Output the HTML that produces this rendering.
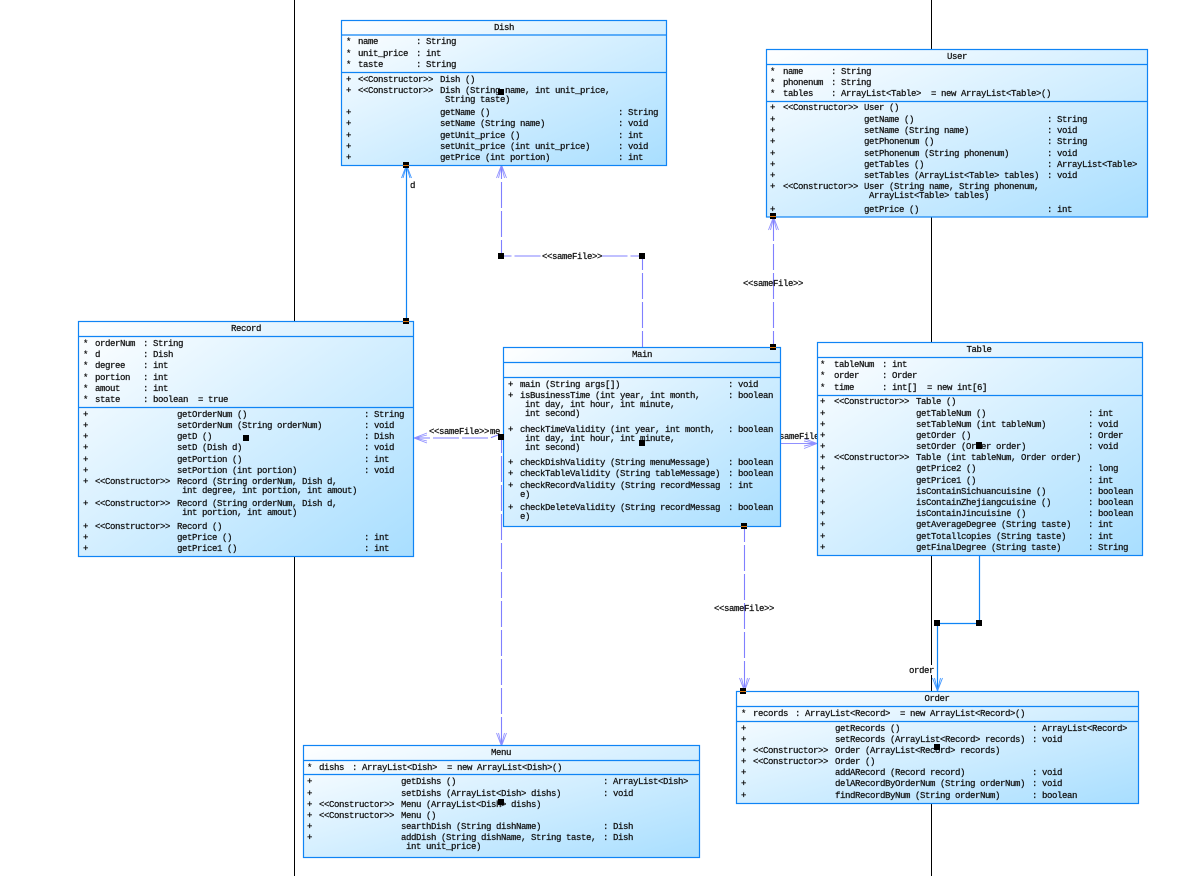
<!DOCTYPE html>
<html><head><meta charset="utf-8">
<style>
html,body{margin:0;padding:0;background:#fff;width:1178px;height:876px;overflow:hidden}
svg{display:block}
text{font-family:"Liberation Mono",monospace;font-size:9px;letter-spacing:-.4px;fill:#111;stroke:#111;stroke-width:.25px;white-space:pre}
.c{letter-spacing:-.4px}
.b{fill:url(#g);stroke:#0f84f5;stroke-width:1.2}
.s{stroke:#0f84f5;stroke-width:1.2;fill:none}
.d{stroke:#8080ff;stroke-width:1.1;fill:none;stroke-dasharray:26 3;stroke-dashoffset:10}
.p{stroke:#9090ff;stroke-width:.9;fill:none}
.a{stroke:#3f96ff;stroke-width:.9;fill:none}
.m{text-anchor:middle}
.h{fill:#000}
.o{fill:#e07a10}
.w{fill:#fff}
</style></head><body>
<svg width="1178" height="876" viewBox="0 0 1178 876" xmlns="http://www.w3.org/2000/svg">
<defs><linearGradient id="g" x1="0" y1="0" x2="1" y2="1"><stop offset="0" stop-color="#ffffff"/><stop offset="1" stop-color="#a8deff"/></linearGradient></defs>

<rect x="294" y="0" width="1" height="876" fill="#000"/>
<rect x="931" y="0" width="1" height="876" fill="#000"/>

<!-- connectors -->
<path class="s" d="M406.5 165V321"/>
<path class="a" d="M401.5 178L406.5 165L411.5 178M403 178L406.5 166L410 178"/>
<rect class="w" x="409" y="180" width="7" height="10"/>
<text x="410" y="188">d</text>

<path class="d" d="M642.5 347V256H501.5V165"/>
<path class="p" d="M496.5 178L501.5 165L506.5 178M498.5 178L501.5 166L504.5 178"/>
<rect class="w" x="541" y="251" width="60" height="10"/>
<text x="542" y="259">&lt;&lt;sameFile&gt;&gt;</text>

<path class="d" d="M773.5 347V217"/>
<path class="p" d="M768.5 230L773.5 217L778.5 230M770.5 230L773.5 218L776.5 230"/>
<text x="743" y="286">&lt;&lt;sameFile&gt;&gt;</text>

<path class="d" d="M414 438H490L498 435"/>
<path class="p" d="M427 433L414 438L427 443M427 435L415 438L427 441"/>
<text x="429" y="434">&lt;&lt;sameFile&gt;&gt;</text>
<text x="490" y="434">me</text>

<path class="d" d="M501.5 437V746"/>
<path class="p" d="M496.5 733L501.5 746L506.5 733M498.5 733L501.5 745L504.5 733"/>

<rect class="w" x="781" y="432" width="36" height="9"/>
<path class="p" d="M781 443.5H817M804 438.5L817 443.5L804 448.5M804 441L816 443.5L804 446"/>
<text x="769" y="439">&lt;&lt;sameFile&gt;&gt;</text>

<path class="d" d="M744.5 526V691"/>
<path class="p" d="M739.5 678L744.5 691L749.5 678M741.5 678L744.5 690L747.5 678"/>
<text x="714" y="611">&lt;&lt;sameFile&gt;&gt;</text>

<path class="s" d="M979.5 555V623.5H937.5V691"/>
<path class="a" d="M932.5 678L937.5 691L942.5 678M934.5 678L937.5 690L940.5 678"/>
<rect class="w" x="909" y="665" width="25" height="10"/>
<text x="909" y="673">order</text>

<!-- Dish -->
<rect class="b" x="341.5" y="20.5" width="325" height="145"/>
<path class="s" d="M341.5 35H666.5M341.5 72.5H666.5"/>
<text class="m" x="504" y="30">Dish</text>
<text y="44"><tspan x="346">*</tspan><tspan x="358">name</tspan><tspan x="416">: String</tspan></text>
<text y="56"><tspan x="346">*</tspan><tspan x="358">unit_price</tspan><tspan x="416">: int</tspan></text>
<text y="67"><tspan x="346">*</tspan><tspan x="358">taste</tspan><tspan x="416">: String</tspan></text>
<text y="82"><tspan x="346">+</tspan><tspan class="c" x="358">&lt;&lt;Constructor&gt;&gt;</tspan><tspan x="440">Dish ()</tspan></text>
<text y="93"><tspan x="346">+</tspan><tspan class="c" x="358">&lt;&lt;Constructor&gt;&gt;</tspan><tspan x="440">Dish (String name, int unit_price,</tspan></text>
<text x="445" y="102">String taste)</text>
<text y="115"><tspan x="346">+</tspan><tspan x="440">getName ()</tspan><tspan x="618">: String</tspan></text>
<text y="126"><tspan x="346">+</tspan><tspan x="440">setName (String name)</tspan><tspan x="618">: void</tspan></text>
<text y="138"><tspan x="346">+</tspan><tspan x="440">getUnit_price ()</tspan><tspan x="618">: int</tspan></text>
<text y="149"><tspan x="346">+</tspan><tspan x="440">setUnit_price (int unit_price)</tspan><tspan x="618">: void</tspan></text>
<text y="160"><tspan x="346">+</tspan><tspan x="440">getPrice (int portion)</tspan><tspan x="618">: int</tspan></text>

<!-- User -->
<rect class="b" x="766.5" y="49.5" width="381" height="167.5"/>
<path class="s" d="M766.5 64.5H1147.5M766.5 101.5H1147.5"/>
<text class="m" x="957" y="59">User</text>
<text y="74"><tspan x="770">*</tspan><tspan x="783">name</tspan><tspan x="831">: String</tspan></text>
<text y="85"><tspan x="770">*</tspan><tspan x="783">phonenum</tspan><tspan x="831">: String</tspan></text>
<text y="96"><tspan x="770">*</tspan><tspan x="783">tables</tspan><tspan x="831">: ArrayList&lt;Table&gt;  = new ArrayList&lt;Table&gt;()</tspan></text>
<text y="110"><tspan x="770">+</tspan><tspan class="c" x="783">&lt;&lt;Constructor&gt;&gt;</tspan><tspan x="864">User ()</tspan></text>
<text y="122"><tspan x="770">+</tspan><tspan x="864">getName ()</tspan><tspan x="1047">: String</tspan></text>
<text y="133"><tspan x="770">+</tspan><tspan x="864">setName (String name)</tspan><tspan x="1047">: void</tspan></text>
<text y="144"><tspan x="770">+</tspan><tspan x="864">getPhonenum ()</tspan><tspan x="1047">: String</tspan></text>
<text y="156"><tspan x="770">+</tspan><tspan x="864">setPhonenum (String phonenum)</tspan><tspan x="1047">: void</tspan></text>
<text y="167"><tspan x="770">+</tspan><tspan x="864">getTables ()</tspan><tspan x="1047">: ArrayList&lt;Table&gt;</tspan></text>
<text y="178"><tspan x="770">+</tspan><tspan x="864">setTables (ArrayList&lt;Table&gt; tables)</tspan><tspan x="1047">: void</tspan></text>
<text y="189"><tspan x="770">+</tspan><tspan class="c" x="783">&lt;&lt;Constructor&gt;&gt;</tspan><tspan x="864">User (String name, String phonenum,</tspan></text>
<text x="869" y="198">ArrayList&lt;Table&gt; tables)</text>
<text y="212"><tspan x="770">+</tspan><tspan x="864">getPrice ()</tspan><tspan x="1047">: int</tspan></text>

<!-- Table -->
<rect class="b" x="817.5" y="342.5" width="325" height="213"/>
<path class="s" d="M817.5 357.5H1142.5M817.5 395.5H1142.5"/>
<text class="m" x="979" y="352">Table</text>
<text y="367"><tspan x="820">*</tspan><tspan x="834">tableNum</tspan><tspan x="882">: int</tspan></text>
<text y="378"><tspan x="820">*</tspan><tspan x="834">order</tspan><tspan x="882">: Order</tspan></text>
<text y="390"><tspan x="820">*</tspan><tspan x="834">time</tspan><tspan x="882">: int[]  = new int[6]</tspan></text>
<text y="404"><tspan x="820">+</tspan><tspan class="c" x="834">&lt;&lt;Constructor&gt;&gt;</tspan><tspan x="916">Table ()</tspan></text>
<text y="416"><tspan x="820">+</tspan><tspan x="916">getTableNum ()</tspan><tspan x="1088">: int</tspan></text>
<text y="427"><tspan x="820">+</tspan><tspan x="916">setTableNum (int tableNum)</tspan><tspan x="1088">: void</tspan></text>
<text y="438"><tspan x="820">+</tspan><tspan x="916">getOrder ()</tspan><tspan x="1088">: Order</tspan></text>
<text y="449"><tspan x="820">+</tspan><tspan x="916">setOrder (Order order)</tspan><tspan x="1088">: void</tspan></text>
<text y="460"><tspan x="820">+</tspan><tspan class="c" x="834">&lt;&lt;Constructor&gt;&gt;</tspan><tspan x="916">Table (int tableNum, Order order)</tspan></text>
<text y="471"><tspan x="820">+</tspan><tspan x="916">getPrice2 ()</tspan><tspan x="1088">: long</tspan></text>
<text y="483"><tspan x="820">+</tspan><tspan x="916">getPrice1 ()</tspan><tspan x="1088">: int</tspan></text>
<text y="494"><tspan x="820">+</tspan><tspan x="916">isContainSichuancuisine ()</tspan><tspan x="1088">: boolean</tspan></text>
<text y="505"><tspan x="820">+</tspan><tspan x="916">isContainZhejiangcuisine ()</tspan><tspan x="1088">: boolean</tspan></text>
<text y="516"><tspan x="820">+</tspan><tspan x="916">isContainJincuisine ()</tspan><tspan x="1088">: boolean</tspan></text>
<text y="527"><tspan x="820">+</tspan><tspan x="916">getAverageDegree (String taste)</tspan><tspan x="1088">: int</tspan></text>
<text y="539"><tspan x="820">+</tspan><tspan x="916">getTotallcopies (String taste)</tspan><tspan x="1088">: int</tspan></text>
<text y="550"><tspan x="820">+</tspan><tspan x="916">getFinalDegree (String taste)</tspan><tspan x="1088">: String</tspan></text>

<!-- Record -->
<rect class="b" x="78.5" y="321.5" width="335" height="235"/>
<path class="s" d="M78.5 336.5H413.5M78.5 407.5H413.5"/>
<text class="m" x="246" y="331">Record</text>
<text y="346"><tspan x="83">*</tspan><tspan x="95">orderNum</tspan><tspan x="143">: String</tspan></text>
<text y="357"><tspan x="83">*</tspan><tspan x="95">d</tspan><tspan x="143">: Dish</tspan></text>
<text y="368"><tspan x="83">*</tspan><tspan x="95">degree</tspan><tspan x="143">: int</tspan></text>
<text y="380"><tspan x="83">*</tspan><tspan x="95">portion</tspan><tspan x="143">: int</tspan></text>
<text y="391"><tspan x="83">*</tspan><tspan x="95">amout</tspan><tspan x="143">: int</tspan></text>
<text y="402"><tspan x="83">*</tspan><tspan x="95">state</tspan><tspan x="143">: boolean  = true</tspan></text>
<text y="417"><tspan x="83">+</tspan><tspan x="177">getOrderNum ()</tspan><tspan x="364">: String</tspan></text>
<text y="428"><tspan x="83">+</tspan><tspan x="177">setOrderNum (String orderNum)</tspan><tspan x="364">: void</tspan></text>
<text y="439"><tspan x="83">+</tspan><tspan x="177">getD ()</tspan><tspan x="364">: Dish</tspan></text>
<text y="450"><tspan x="83">+</tspan><tspan x="177">setD (Dish d)</tspan><tspan x="364">: void</tspan></text>
<text y="462"><tspan x="83">+</tspan><tspan x="177">getPortion ()</tspan><tspan x="364">: int</tspan></text>
<text y="473"><tspan x="83">+</tspan><tspan x="177">setPortion (int portion)</tspan><tspan x="364">: void</tspan></text>
<text y="484"><tspan x="83">+</tspan><tspan class="c" x="95">&lt;&lt;Constructor&gt;&gt;</tspan><tspan x="177">Record (String orderNum, Dish d,</tspan></text>
<text x="182" y="493">int degree, int portion, int amout)</text>
<text y="506"><tspan x="83">+</tspan><tspan class="c" x="95">&lt;&lt;Constructor&gt;&gt;</tspan><tspan x="177">Record (String orderNum, Dish d,</tspan></text>
<text x="182" y="515">int portion, int amout)</text>
<text y="529"><tspan x="83">+</tspan><tspan class="c" x="95">&lt;&lt;Constructor&gt;&gt;</tspan><tspan x="177">Record ()</tspan></text>
<text y="540"><tspan x="83">+</tspan><tspan x="177">getPrice ()</tspan><tspan x="364">: int</tspan></text>
<text y="551"><tspan x="83">+</tspan><tspan x="177">getPrice1 ()</tspan><tspan x="364">: int</tspan></text>

<!-- Main -->
<rect class="b" x="503.5" y="347.5" width="277" height="179"/>
<path class="s" d="M503.5 362.5H780.5M503.5 377.5H780.5"/>
<text class="m" x="642" y="357">Main</text>
<text y="387"><tspan x="508">+</tspan><tspan x="520">main (String args[])</tspan><tspan x="728">: void</tspan></text>
<text y="398"><tspan x="508">+</tspan><tspan x="520">isBusinessTime (int year, int month,</tspan><tspan x="728">: boolean</tspan></text>
<text x="525" y="407">int day, int hour, int minute,</text>
<text x="525" y="416">int second)</text>
<text y="432"><tspan x="508">+</tspan><tspan x="520">checkTimeValidity (int year, int month,</tspan><tspan x="728">: boolean</tspan></text>
<text x="525" y="441">int day, int hour, int minute,</text>
<text x="525" y="450">int second)</text>
<text y="465"><tspan x="508">+</tspan><tspan x="520">checkDishValidity (String menuMessage)</tspan><tspan x="728">: boolean</tspan></text>
<text y="476"><tspan x="508">+</tspan><tspan x="520">checkTableValidity (String tableMessage)</tspan><tspan x="728">: boolean</tspan></text>
<text y="488"><tspan x="508">+</tspan><tspan x="520">checkRecordValidity (String recordMessag</tspan><tspan x="728">: int</tspan></text>
<text x="520" y="497">e)</text>
<text y="510"><tspan x="508">+</tspan><tspan x="520">checkDeleteValidity (String recordMessag</tspan><tspan x="728">: boolean</tspan></text>
<text x="520" y="519">e)</text>

<!-- Order -->
<rect class="b" x="736.5" y="691.5" width="402" height="112"/>
<path class="s" d="M736.5 706.5H1138.5M736.5 721.5H1138.5"/>
<text class="m" x="937" y="701">Order</text>
<text y="716"><tspan x="741">*</tspan><tspan x="753">records</tspan><tspan x="795">: ArrayList&lt;Record&gt;  = new ArrayList&lt;Record&gt;()</tspan></text>
<text y="731"><tspan x="741">+</tspan><tspan x="835">getRecords ()</tspan><tspan x="1032">: ArrayList&lt;Record&gt;</tspan></text>
<text y="742"><tspan x="741">+</tspan><tspan x="835">setRecords (ArrayList&lt;Record&gt; records)</tspan><tspan x="1032">: void</tspan></text>
<text y="753"><tspan x="741">+</tspan><tspan class="c" x="753">&lt;&lt;Constructor&gt;&gt;</tspan><tspan x="835">Order (ArrayList&lt;Record&gt; records)</tspan></text>
<text y="764"><tspan x="741">+</tspan><tspan class="c" x="753">&lt;&lt;Constructor&gt;&gt;</tspan><tspan x="835">Order ()</tspan></text>
<text y="775"><tspan x="741">+</tspan><tspan x="835">addARecord (Record record)</tspan><tspan x="1032">: void</tspan></text>
<text y="786"><tspan x="741">+</tspan><tspan x="835">delARecordByOrderNum (String orderNum)</tspan><tspan x="1032">: void</tspan></text>
<text y="798"><tspan x="741">+</tspan><tspan x="835">findRecordByNum (String orderNum)</tspan><tspan x="1032">: boolean</tspan></text>

<!-- Menu -->
<rect class="b" x="303.5" y="745.5" width="396" height="112"/>
<path class="s" d="M303.5 760.5H699.5M303.5 774.5H699.5"/>
<text class="m" x="501" y="755">Menu</text>
<text y="770"><tspan x="307">*</tspan><tspan x="319">dishs</tspan><tspan x="352">: ArrayList&lt;Dish&gt;  = new ArrayList&lt;Dish&gt;()</tspan></text>
<text y="784"><tspan x="307">+</tspan><tspan x="401">getDishs ()</tspan><tspan x="603">: ArrayList&lt;Dish&gt;</tspan></text>
<text y="796"><tspan x="307">+</tspan><tspan x="401">setDishs (ArrayList&lt;Dish&gt; dishs)</tspan><tspan x="603">: void</tspan></text>
<text y="807"><tspan x="307">+</tspan><tspan class="c" x="319">&lt;&lt;Constructor&gt;&gt;</tspan><tspan x="401">Menu (ArrayList&lt;Dish&gt; dishs)</tspan></text>
<text y="818"><tspan x="307">+</tspan><tspan class="c" x="319">&lt;&lt;Constructor&gt;&gt;</tspan><tspan x="401">Menu ()</tspan></text>
<text y="829"><tspan x="307">+</tspan><tspan x="401">searthDish (String dishName)</tspan><tspan x="603">: Dish</tspan></text>
<text y="840"><tspan x="307">+</tspan><tspan x="401">addDish (String dishName, String taste,</tspan><tspan x="603">: Dish</tspan></text>
<text x="406" y="849">int unit_price)</text>

<!-- handles -->
<g class="h">
<rect x="403" y="162" width="6" height="6"/>
<rect x="403" y="318" width="6" height="6"/>
<rect x="770" y="344" width="6" height="6"/>
<rect x="770" y="213" width="6" height="6"/>
<rect x="741" y="523" width="6" height="6"/>
<rect x="740" y="688" width="6" height="6"/>
<rect x="498" y="434" width="6" height="6"/>
<rect x="498" y="253" width="6" height="6"/>
<rect x="639" y="253" width="6" height="6"/>
<rect x="934" y="620" width="6" height="6"/>
<rect x="976" y="620" width="6" height="6"/>
<rect x="498" y="89" width="6" height="6"/>
<rect x="243" y="435" width="6" height="6"/>
<rect x="639" y="440" width="6" height="6"/>
<rect x="976" y="442" width="6" height="7"/>
<rect x="934" y="744" width="6" height="6"/>
<rect x="498" y="799" width="6" height="6"/>
</g>
<g class="o">
<rect x="403" y="165" width="6" height="1"/>
<rect x="403" y="321" width="6" height="1"/>
<rect x="770" y="347" width="6" height="1"/>
<rect x="770" y="216" width="6" height="1"/>
<rect x="741" y="526" width="6" height="1"/>
<rect x="740" y="691" width="6" height="1"/>
</g>
</svg>
</body></html>
